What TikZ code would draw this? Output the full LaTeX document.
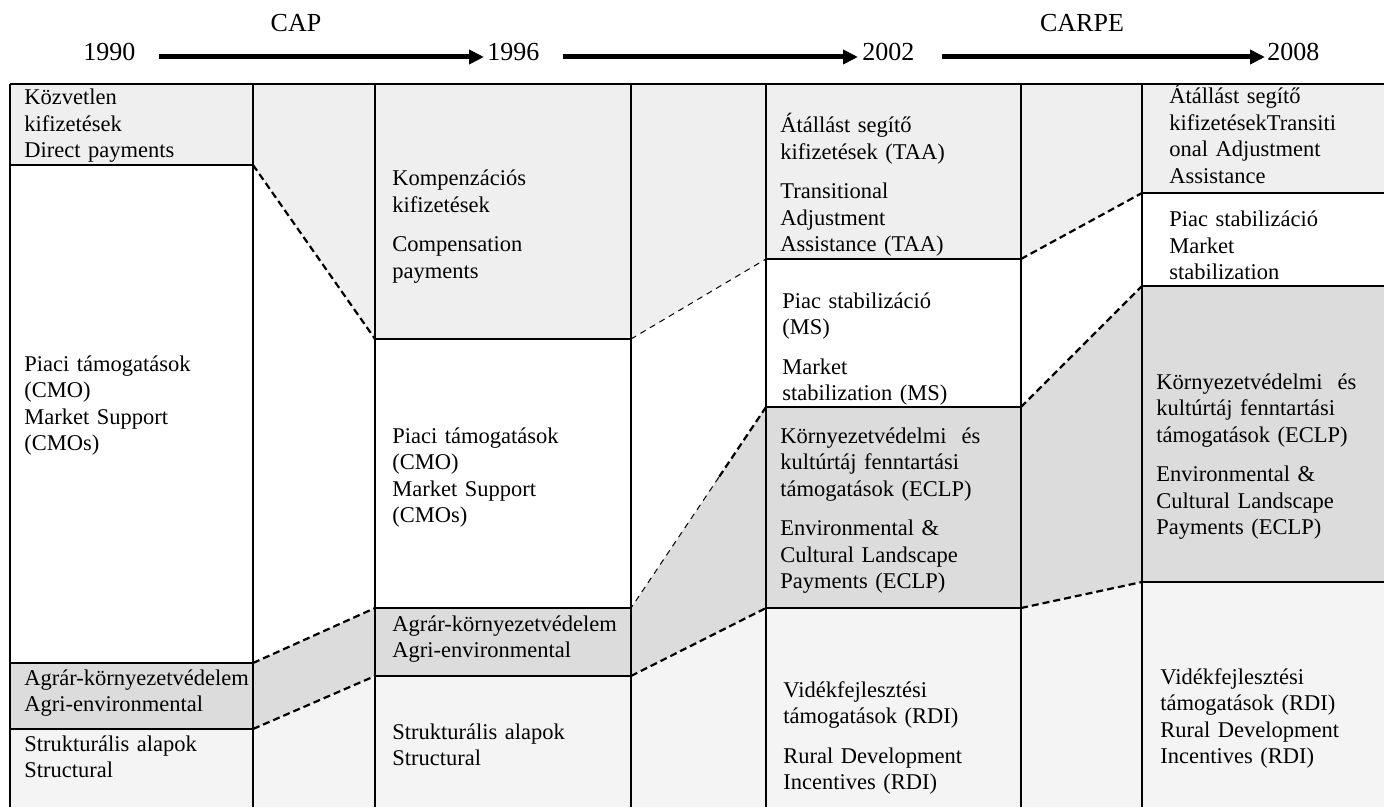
\documentclass[tikz,border=0pt]{standalone}
\usepackage{fontspec}
\setmainfont{Liberation Serif}
\usetikzlibrary{arrows.meta,calc}
\definecolor{topgrey}{HTML}{EFEFEF}
\definecolor{midgrey}{HTML}{DCDCDC}
\definecolor{botgrey}{HTML}{F4F4F4}
\tikzset{
  year/.style={anchor=west, inner sep=0pt, font=\fontsize{13}{15}\selectfont},
  era/.style={inner sep=0pt, font=\fontsize{13}{15}\selectfont},
  yeararrow/.style={line width=2.5pt, -{Triangle[length=7.5pt,width=7pt]}},
  cellline/.style={line width=0.75pt},
  boldlink/.style={line width=1.1pt, dash pattern=on 3.5pt off 2pt},
  thinlink/.style={line width=0.5pt, dash pattern=on 3pt off 2.5pt},
  celltext/.style={anchor=base west, inner sep=0pt, text width=125pt, align=left,
    font=\fontsize{11.25}{13.25}\selectfont}
}
\begin{document}
\begin{tikzpicture}[x=0.5pt,y=-0.5pt]
\useasboundingbox (0,0) rectangle (1384,807);

% time line
\node[year] (y1990) at (83,52) {1990};
\node[year] (y1996) at (487,52) {1996};
\node[year] (y2002) at (862,52) {2002};
\node[year] (y2008) at (1267,52) {2008};
\node[era] (cap) at (296,23) {CAP};
\node[era] (carpe) at (1082,23) {CARPE};
\draw[yeararrow] ($(y1990.east)+(23,5)$) -- ($(y1996.west)+(-3,5)$);
\draw[yeararrow] ($(y1996.east)+(23,5)$) -- ($(y2002.west)+(-4,5)$);
\draw[yeararrow] ($(y2002.east)+(27,5)$) -- ($(y2008.west)+(-2,5)$);

% corners where the bands meet the gaps
\coordinate (aR1) at (253,165);  \coordinate (aR2) at (253,663);  \coordinate (aR3) at (253,729);
\coordinate (bL1) at (375,339);  \coordinate (bL2) at (375,608);  \coordinate (bL3) at (375,676);
\coordinate (bR1) at (631,339);  \coordinate (bR2) at (631,608);  \coordinate (bR3) at (631,676);
\coordinate (cL1) at (766,259);  \coordinate (cL2) at (766,407);  \coordinate (cL3) at (766,608);
\coordinate (cR1) at (1021,259); \coordinate (cR2) at (1021,407); \coordinate (cR3) at (1021,608);
\coordinate (dL1) at (1142,193); \coordinate (dL2) at (1142,286); \coordinate (dL3) at (1142,582);

% 1990
\fill[topgrey] (10,84) rectangle (aR1);
\fill[midgrey] (10,663) rectangle (aR3);
\fill[botgrey] (10,729) rectangle (253,807);
% 1996
\fill[topgrey] (375,84) rectangle (bR1);
\fill[midgrey] (bL2) rectangle (bR3);
\fill[botgrey] (bL3) rectangle (631,807);
% 2002
\fill[topgrey] (766,84) rectangle (cR1);
\fill[midgrey] (cL2) rectangle (cR3);
\fill[botgrey] (cL3) rectangle (1021,807);
% 2008
\fill[topgrey] (1142,84) rectangle (1384,193);
\fill[midgrey] (dL2) rectangle (1384,582);
\fill[botgrey] (dL3) rectangle (1384,807);

% gaps
\fill[topgrey] (253,84) -- (375,84) -- (bL1) -- (aR1) -- cycle;
\fill[midgrey] (aR2) -- (bL2) -- (bL3) -- (aR3) -- cycle;
\fill[botgrey] (aR3) -- (bL3) -- (375,807) -- (253,807) -- cycle;
\fill[topgrey] (631,84) -- (766,84) -- (cL1) -- (bR1) -- cycle;
\fill[midgrey] (bR2) -- (cL2) -- (cL3) -- (bR3) -- cycle;
\fill[botgrey] (bR3) -- (cL3) -- (766,807) -- (631,807) -- cycle;
\fill[topgrey] (1021,84) -- (1142,84) -- (dL1) -- (cR1) -- cycle;
\fill[midgrey] (cR2) -- (dL2) -- (dL3) -- (cR3) -- cycle;
\fill[botgrey] (cR3) -- (dL3) -- (1142,807) -- (1021,807) -- cycle;

% rules
\draw[cellline] (10,84) -- (1384,84);
\foreach \x in {10,253,375,631,766,1021,1142}
  \draw[cellline] (\x,84) -- (\x,807);
\draw[cellline] (10,165) -- (aR1) (10,663) -- (aR2) (10,729) -- (aR3);
\draw[cellline] (bL1) -- (bR1) (bL2) -- (bR2) (bL3) -- (bR3);
\draw[cellline] (cL1) -- (cR1) (cL2) -- (cR2) (cL3) -- (cR3);
\draw[cellline] (dL1) -- (1384,193) (dL2) -- (1384,286) (dL3) -- (1384,582);

% links
\coordinate (g2mid) at ($(cL2)!0.35!(bR2)$);
\draw[boldlink] (aR1) -- (bL1);
\draw[boldlink] (aR2) -- (bL2);
\draw[boldlink] (aR3) -- (bL3);
\draw[thinlink] (bR1) -- (cL1);
\draw[boldlink] (cL2) -- (g2mid);
\draw[thinlink] (g2mid) -- (bR2);
\draw[boldlink] (bR3) -- (cL3);
\draw[boldlink] (cR1) -- (dL1);
\draw[boldlink] (cR2) -- (dL2);
\draw[boldlink] (cR3) -- (dL3);

% texts
\node[celltext] (dpA) at (24,105) {Közvetlen\\kifizetések\\Direct payments};
\node[celltext] (cmoA) at (24,371) {Piaci támogatások\\(CMO)\\Market Support\\(CMOs)};
\node[celltext] (agriA) at (24,685) {Agrár-környezetvédelem\\Agri-environmental};
\node[celltext] (strA) at (24,751) {Strukturális alapok\\Structural};
\node[celltext] (compB) at (392,186) {Kompenzációs\\kifizetések\\[6.5pt]Compensation\\payments};
\node[celltext] (cmoB) at (392,443) {Piaci támogatások\\(CMO)\\Market Support\\(CMOs)};
\node[celltext] (agriB) at (392,631) {Agrár-környezetvédelem\\Agri-environmental};
\node[celltext] (strB) at (392,739) {Strukturális alapok\\Structural};
\node[celltext] (taaC) at (780,133) {Átállást segítő\\kifizetések (TAA)\\[6.5pt]Transitional\\Adjustment\\Assistance (TAA)};
\node[celltext] (msC) at (782,308) {Piac stabilizáció\\(MS)\\[6.5pt]Market\\stabilization (MS)};
\node[celltext] (eclpC) at (780,443) {Környezetvédelmi~ és\\kultúrtáj fenntartási\\támogatások (ECLP)\\[6.5pt]Environmental \&\\Cultural Landscape\\Payments (ECLP)};
\node[celltext] (rdiC) at (783,697) {Vidékfejlesztési\\támogatások (RDI)\\[6.5pt]Rural Development\\Incentives (RDI)};
\node[celltext] (taaD) at (1169,104) {Átállást segítő\\kifizetésekTransiti\\onal Adjustment\\Assistance};
\node[celltext] (msD) at (1169,227) {Piac stabilizáció\\Market\\stabilization};
\node[celltext] (eclpD) at (1156,389) {Környezetvédelmi~ és\\kultúrtáj fenntartási\\támogatások (ECLP)\\[6.5pt]Environmental \&\\Cultural Landscape\\Payments (ECLP)};
\node[celltext] (rdiD) at (1160,684) {Vidékfejlesztési\\támogatások (RDI)\\Rural Development\\Incentives (RDI)};
\end{tikzpicture}
\end{document}
